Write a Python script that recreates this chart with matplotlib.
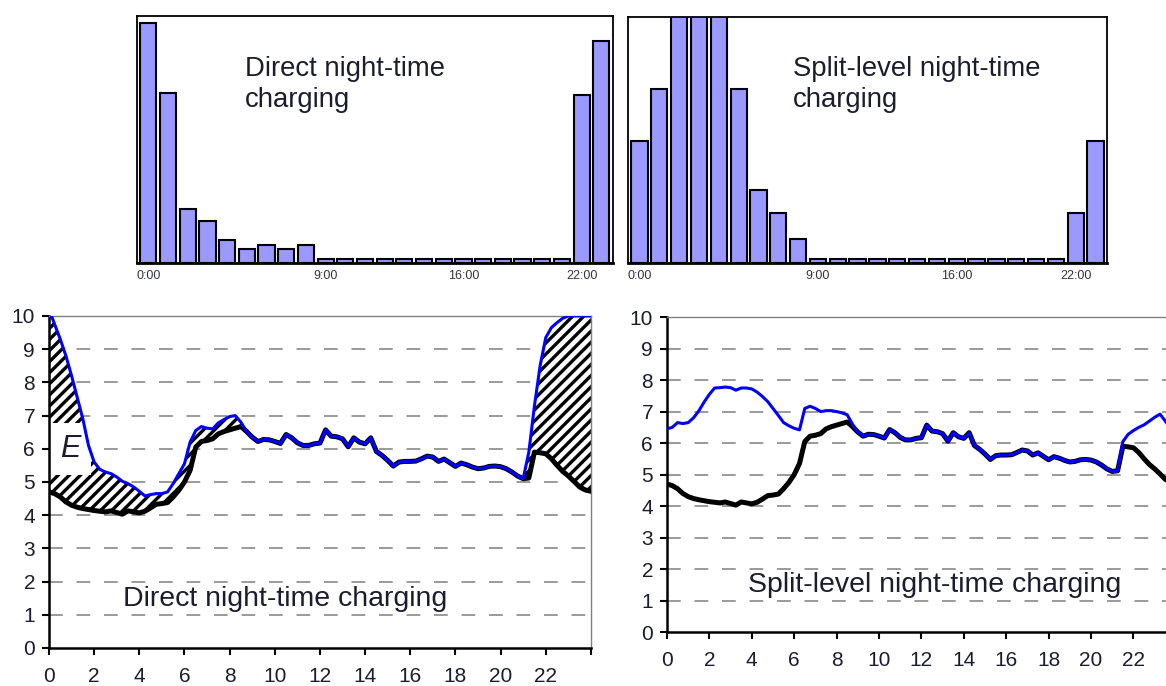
import numpy as np
import matplotlib
matplotlib.use('Agg')
import matplotlib.pyplot as plt

plt.rcParams['font.family'] = ['Liberation Sans', 'DejaVu Sans']
plt.rcParams['hatch.linewidth'] = 2.4

# hourly charging profile (relative, top of box = 1)
hour_slots = list(range(24))
bar_ticks = [0, 9, 16, 22]
bar_ticklabels = ['0:00', '9:00', '16:00', '22:00']
direct_bars = [0.973, 0.69, 0.22, 0.172, 0.092, 0.058, 0.074, 0.058, 0.074,
               0.0175, 0.0175, 0.0175, 0.0175, 0.0175, 0.0175, 0.0175, 0.0175,
               0.0175, 0.0175, 0.0175, 0.0175, 0.0175, 0.68, 0.90]
split_bars = [0.495, 0.706, 1.25, 1.25, 1.25, 0.706, 0.298, 0.203, 0.096,
              0.015, 0.015, 0.015, 0.015, 0.015, 0.015, 0.015, 0.015,
              0.015, 0.015, 0.015, 0.015, 0.015, 0.203, 0.495]

# load curves, every 15 min from 0:00 to 24:00
hours = np.linspace(0, 24, 97)
base = [4.70, 4.65, 4.55, 4.40,
        4.30, 4.24, 4.20, 4.17,
        4.14, 4.12, 4.10, 4.13,
        4.08, 4.03, 4.13, 4.10,
        4.07, 4.12, 4.22, 4.33,
        4.35, 4.38, 4.55, 4.75,
        5.00, 5.35, 6.05, 6.22,
        6.25, 6.30, 6.45, 6.52,
        6.57, 6.62, 6.67, 6.52,
        6.35, 6.22, 6.28, 6.27,
        6.22, 6.16, 6.43, 6.33,
        6.18, 6.10, 6.10, 6.15,
        6.17, 6.57, 6.38, 6.36,
        6.30, 6.06, 6.33, 6.20,
        6.15, 6.33, 5.92, 5.80,
        5.65, 5.48, 5.60, 5.62,
        5.62, 5.63, 5.70, 5.78,
        5.75, 5.62, 5.69, 5.58,
        5.47, 5.57, 5.52, 5.45,
        5.40, 5.42, 5.47, 5.48,
        5.46, 5.40, 5.30, 5.18,
        5.10, 5.12, 5.90, 5.88,
        5.85, 5.70, 5.50, 5.32,
        5.18, 5.02, 4.85, 4.76,
        4.72]
# with charging, night parts (0:00-8:45 and 21:15-24:00)
direct_am = [10.2, 9.75, 9.3, 8.8,
             8.2, 7.55, 6.9, 6.1,
             5.6, 5.38, 5.3, 5.25,
             5.15, 5.02, 4.95, 4.85,
             4.72, 4.58, 4.62, 4.65,
             4.65, 4.70, 4.95, 5.25,
             5.55, 6.2, 6.55, 6.67,
             6.62, 6.6, 6.78, 6.88,
             6.97, 7.0, 6.8, 6.52]
direct_pm = [5.9, 7.3, 8.5, 9.35, 9.65, 9.8, 9.93, 10.0, 10.0, 10.0, 10.0, 10.0]
split_am = [6.45, 6.5, 6.65, 6.62,
            6.65, 6.8, 7.02, 7.3,
            7.55, 7.75, 7.76, 7.78,
            7.76, 7.68, 7.75, 7.75,
            7.72, 7.62, 7.48, 7.32,
            7.1, 6.88, 6.65, 6.55,
            6.47, 6.42, 7.1, 7.17,
            7.1, 7.0, 7.03, 7.03,
            7.0, 6.96, 6.9, 6.6]
split_pm = [5.12, 6.05, 6.28, 6.4, 6.5, 6.58, 6.7, 6.82, 6.92, 6.7, 6.45, 6.2]

direct_total = np.array(direct_am + base[36:85] + direct_pm)
split_total = np.array(split_am + base[36:85] + split_pm)
base = np.array(base)

txt_col = '#1c1c30'

fig = plt.figure(figsize=(11.66, 6.86), dpi=100)


def bar_panel(rect, vals, label, lx):
    ax = fig.add_axes(rect)
    ax.bar(hour_slots, vals, width=0.82, color='#9999ff', edgecolor='black', linewidth=1.5)
    ax.set_xlim(-0.58, 23.58)
    ax.set_ylim(0, 1)
    ax.set_yticks([])
    ax.set_xticks(bar_ticks)
    ax.set_xticklabels(bar_ticklabels, fontsize=9, color='#333344')
    ax.tick_params(axis='x', length=0, pad=5)
    for s in ax.spines.values():
        s.set_linewidth(1.3)
    ax.spines['bottom'].set_linewidth(2)
    ax.text(lx, 0.84, label, transform=ax.transAxes, fontsize=19.8, color=txt_col,
            va='top', ha='left', linespacing=1.25)
    return ax


bar_panel([0.1175, 0.6166, 0.408, 0.360], direct_bars, 'Direct night-time\ncharging', 0.227)
bar_panel([0.5386, 0.6166, 0.4108, 0.3586], split_bars, 'Split-level night-time\ncharging', 0.344)


def load_panel(rect, total, label, lx):
    ax = fig.add_axes(rect)
    ax.set_xlim(0, 24)
    ax.set_ylim(0, 10)
    ax.set_yticks(range(0, 11))
    ax.set_xticks(range(0, 25, 2))
    ax.set_xticklabels([str(h) for h in range(0, 23, 2)] + [''])
    for y in range(1, 10):
        ax.axhline(y, color='#7f7f7f', lw=1.1, ls=(0, (9, 9)), zorder=0.5)
    ax.tick_params(labelsize=15, labelcolor=txt_col, width=1.5, length=5, direction='out')
    ax.tick_params(axis='x', pad=9)
    ax.tick_params(axis='y', pad=5)
    ax.spines['left'].set_linewidth(1.8)
    ax.spines['bottom'].set_linewidth(1.8)
    for s in ['top', 'right']:
        ax.spines[s].set_color('#808080')
        ax.spines[s].set_linewidth(1.0)
    ax.plot(hours, base, color='black', lw=3.6, zorder=3, solid_joinstyle='round')
    ax.plot(hours, total, color='#0000ff', lw=2.2, zorder=4, solid_joinstyle='round')
    ax.text(lx, 1.27, label, fontsize=20.5, color=txt_col, ha='left', va='baseline', zorder=5)
    return ax


ax3 = load_panel([0.042, 0.0554, 0.4648, 0.484], direct_total, 'Direct night-time charging', 3.27)
ax3.fill_between(hours, base, direct_total, where=direct_total > base + 0.01, interpolate=True,
                 facecolor='white', edgecolor='black', hatch='///', linewidth=0, zorder=1)
ax3.text(0.93, 6.0, 'E', fontsize=22, style='italic', color=txt_col, ha='center', va='center',
         zorder=2, bbox=dict(facecolor='white', edgecolor='none', pad=8))

load_panel([0.572, 0.0787, 0.4365, 0.459], split_total, 'Split-level night-time charging', 3.82)

fig.savefig('out.png', dpi=100)
